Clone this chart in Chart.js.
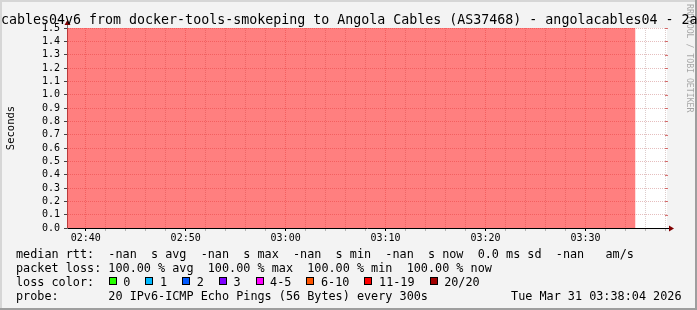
<!DOCTYPE html>
<html lang="en">
<head>
<meta charset="UTF-8" />
<title>SmokePing angolacables04v6</title>
<script src="https://cdn.jsdelivr.net/npm/chart.js"></script>
<style>
  html, body { margin: 0; padding: 0; background: #f3f3f3; overflow: hidden; }
  canvas { display: block; }
</style>
</head>
<body>
<canvas id="smokeChart" width="697" height="310"></canvas>
<script>
  // rrd steps (300 s each), minutes after 02:00
  const stepMinutes = [35, 40, 45, 50, 55, 60, 65, 70, 75, 80, 85, 90, 95];
  const lossPct     = [100, 100, 100, 100, 100, 100, 100, 100, 100, 100, 100, 100, 100];

  const xMajorMinutes = [40, 50, 60, 70, 80, 90];
  const xMajorLabels  = ['02:40', '02:50', '03:00', '03:10', '03:20', '03:30'];
  const xMin = 38.13, xMax = 98.15;   // 02:38:08 .. 03:38:09
  const yMin = 0, yMax = 1.5, yStep = 0.1;

  const titleText = 'cables04v6 from docker-tools-smokeping to Angola Cables (AS37468) - angolacables04 - 2a';
  const rttRow    = 'median rtt:  -nan  s avg  -nan  s max  -nan  s min  -nan  s now  0.0 ms sd  -nan   am/s';
  const lossRow   = 'packet loss: 100.00 % avg  100.00 % max  100.00 % min  100.00 % now';
  const lossColorTitle  = 'loss color:';
  const lossColorLabels = ['0', '1', '2', '3', '4-5', '6-10', '11-19', '20/20'];
  const lossColors      = ['#26ff00', '#00b8ff', '#0059ff', '#7e00ff', '#ff00ff', '#ff5500', '#ff0000', '#a10000'];
  const probeRow  = 'probe:       20 IPv6-ICMP Echo Pings (56 Bytes) every 300s';
  const stampText = 'Tue Mar 31 03:38:04 2026';
  const markText  = 'RRDTOOL / TOBI OETIKER';

  const MONO = '"DejaVu Sans Mono", monospace';
  Chart.defaults.font.family = MONO;

  const majorGrid = 'rgba(200,110,110,0.45)';
  const minorGrid = 'rgba(170,130,130,0.40)';

  const rrdFrame = {
    id: 'rrdFrame',
    beforeDraw(chart) {
      const { ctx, width: W, height: H, chartArea: ca } = chart;
      ctx.save();
      ctx.fillStyle = '#f3f3f3';
      ctx.fillRect(0, 0, W, H);
      ctx.fillStyle = '#d6d6d6';
      ctx.fillRect(0, 0, W, 2);
      ctx.fillRect(0, 0, 2, H);
      ctx.fillStyle = '#9e9e9e';
      ctx.fillRect(0, H - 2, W, 2);
      ctx.fillRect(W - 2, 0, 2, H);
      ctx.fillStyle = '#ffffff';
      ctx.fillRect(ca.left, ca.top, ca.right - ca.left, ca.bottom - ca.top);
      ctx.restore();
    },
    afterDraw(chart) {
      const { ctx, chartArea: ca } = chart;
      const ys = chart.scales.y;
      const y0 = Math.round(ys.getPixelForValue(yMin)) + 0.5;
      const xl = Math.round(ca.left) + 0.5;
      ctx.save();

      // short major-grid ticks on the right edge
      ctx.lineWidth = 1;
      ctx.strokeStyle = 'rgba(200,60,60,0.7)';
      ys.ticks.forEach(t => {
        const py = Math.round(ys.getPixelForValue(t.value)) + 0.5;
        if (t.value === yMin) return;
        ctx.beginPath(); ctx.moveTo(ca.right - 2, py); ctx.lineTo(ca.right + 1, py); ctx.stroke();
      });

      // axis arrows
      ctx.strokeStyle = '#000';
      ctx.beginPath(); ctx.moveTo(ca.right, y0); ctx.lineTo(671, y0); ctx.stroke();
      ctx.strokeStyle = '#777';
      ctx.beginPath(); ctx.moveTo(xl, ca.top); ctx.lineTo(xl, 24); ctx.stroke();
      ctx.fillStyle = '#7f0000';
      ctx.beginPath(); ctx.moveTo(669, y0 - 3); ctx.lineTo(674, y0); ctx.lineTo(669, y0 + 3); ctx.closePath(); ctx.fill();
      ctx.beginPath(); ctx.moveTo(xl - 3, 25); ctx.lineTo(xl, 20); ctx.lineTo(xl + 3, 25); ctx.closePath(); ctx.fill();

      // title
      ctx.fillStyle = '#000';
      ctx.textBaseline = 'alphabetic';
      ctx.textAlign = 'left';
      ctx.font = '13.3px ' + MONO;
      ctx.fillText(titleText, 1, 24);

      // legend rows
      ctx.font = '11.8px ' + MONO;
      ctx.fillText(rttRow, 16, 258);
      ctx.fillText(lossRow, 16, 272);
      ctx.fillText(lossColorTitle, 16, 286);
      let x = 108.7;
      lossColorLabels.forEach((lab, i) => {
        const bx = Math.round(x);
        ctx.fillStyle = lossColors[i];
        ctx.fillRect(bx, 277, 8, 8);
        ctx.strokeStyle = '#000';
        ctx.strokeRect(bx + 0.5, 277.5, 7, 7);
        ctx.fillStyle = '#000';
        ctx.fillText(lab, x + 14.6, 286);
        x += 14.6 + ctx.measureText(lab).width + 15;
      });
      ctx.fillText(probeRow, 16, 300);
      ctx.textAlign = 'right';
      ctx.fillText(stampText, 681.5, 300);

      // watermark
      ctx.translate(689.5, 4);
      ctx.rotate(Math.PI / 2);
      ctx.textAlign = 'left';
      ctx.textBaseline = 'middle';
      ctx.font = '8.2px ' + MONO;
      ctx.fillStyle = 'rgba(0,0,0,0.33)';
      ctx.fillText(markText, 0, 0);
      ctx.restore();
    }
  };

  new Chart(document.getElementById('smokeChart'), {
    type: 'line',
    data: {
      datasets: [{
        label: 'packet loss',
        data: stepMinutes.map((m, i) => ({ x: m, y: lossPct[i] / 100 * yMax })),
        stepped: 'before',
        fill: 'origin',
        backgroundColor: 'rgba(255,0,0,0.5)',
        borderWidth: 0,
        pointRadius: 0
      }]
    },
    options: {
      responsive: false,
      devicePixelRatio: 1,
      animation: false,
      events: [],
      layout: { padding: { top: 28, right: 30, left: 0, bottom: 0 } },
      plugins: {
        legend: { display: false },
        tooltip: { enabled: false }
      },
      scales: {
        x: {
          type: 'linear',
          min: xMin,
          max: xMax,
          afterFit: s => { s.height = 82; },
          afterBuildTicks: s => {
            const t = [];
            for (let m = 40; m <= 98; m += 2) t.push({ value: m });
            s.ticks = t;
          },
          ticks: {
            autoSkip: false,
            maxRotation: 0,
            padding: 1,
            color: '#000',
            font: { size: 10 },
            callback: v => {
              const i = xMajorMinutes.indexOf(v);
              return i >= 0 ? xMajorLabels[i] : '';
            }
          },
          grid: {
            color: c => (c.tick && xMajorMinutes.includes(c.tick.value)) ? majorGrid : minorGrid,
            tickLength: 3,
            tickColor: c => (c.tick && xMajorMinutes.includes(c.tick.value)) ? '#000' : 'rgba(0,0,0,0.25)'
          },
          border: { color: '#000', dash: [1, 1] }
        },
        y: {
          min: yMin,
          max: yMax,
          afterFit: s => { s.width = 67; },
          ticks: {
            stepSize: yStep,
            autoSkip: false,
            maxTicksLimit: 100,
            padding: 4,
            color: '#000',
            font: { size: 10 },
            callback: v => v.toFixed(1)
          },
          grid: { color: majorGrid, tickLength: 3, tickColor: '#444' },
          border: { color: '#777', dash: [1, 1] },
          title: {
            display: true,
            text: 'Seconds',
            color: '#000',
            font: { size: 10.5 },
            padding: { top: 5, bottom: 0 }
          }
        }
      }
    },
    plugins: [rrdFrame]
  });
</script>
</body>
</html>
